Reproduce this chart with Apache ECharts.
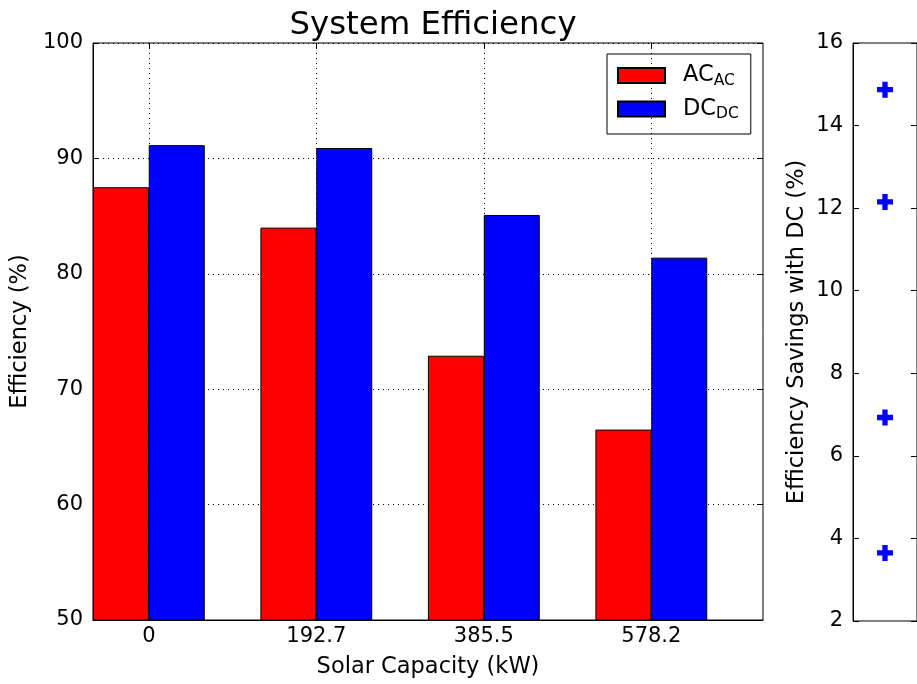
<!DOCTYPE html>
<html><head><meta charset="utf-8">
<script src="https://cdn.jsdelivr.net/npm/echarts@6/dist/echarts.min.js"></script>
<style>html,body{margin:0;padding:0;background:#fff}#c{width:917px;height:684px}</style>
</head><body><div id="c"></div>
<script>
const categories = ['0', '192.7', '385.5', '578.2'];
const acValues = [87.5, 84.0, 72.9, 66.5];
const dcValues = [91.15, 90.9, 85.1, 81.4];
const savings = [3.65, 6.93, 12.15, 14.87];
const yTicksLeft = [50, 60, 70, 80, 90, 100];
const yTicksRight = [2, 4, 6, 8, 10, 12, 14, 16];

const F = 'DejaVu Sans';
const TICK = 21, LAB = 22.5;
const catIdx = categories.map((c, i) => i);
const acData = acValues.map((v, i) => [i - 1/6, v]);
const dcData = dcValues.map((v, i) => [i + 1/6, v]);
const savData = savings.map(v => [1, v]);
const plus = 'path://M-1,-3 L1,-3 L1,-1 L3,-1 L3,1 L1,1 L1,3 L-1,3 L-1,1 L-3,1 L-3,-1 L-1,-1 Z';

const chart = echarts.init(document.getElementById('c'), null, {renderer: 'canvas'});
const tickInside = {show: true, inside: true, length: 6, lineStyle: {color: '#000', width: 1}};
chart.setOption({
  animation: false,
  textStyle: {fontFamily: F},
  title: {text: 'System Efficiency', left: 428, top: 5, textAlign: 'center',
    textStyle: {fontFamily: F, fontSize: 32.4, fontWeight: 'normal', color: '#000'}},
  legend: {
    orient: 'vertical', left: 607, top: 54, padding: [10, 12, 12, 10],
    itemWidth: 47, itemHeight: 15, itemGap: 9, icon: 'rect',
    borderColor: '#000', borderWidth: 1, borderRadius: 0,
    data: ['AC', 'DC'],
    formatter: n => '{m|' + n + '}{s|' + n + '}',
    textStyle: {fontFamily: F, color: '#000', rich: {
      m: {fontSize: LAB, fontFamily: F, color: '#000', padding: [0, 0, 0, 13]},
      s: {fontSize: 15.5, fontFamily: F, color: '#000', padding: [10, 0, 0, 0]}
    }}
  },
  grid: [
    {left: 93, top: 43, width: 670, height: 578, show: true, borderColor: '#000', borderWidth: 1, backgroundColor: 'transparent'},
    {left: 853, top: 43, width: 65, height: 578, show: true, borderColor: '#000', borderWidth: 1, backgroundColor: 'transparent'}
  ],
  xAxis: [
    {type: 'value', gridIndex: 0, min: -1/3, max: 11/3, position: 'bottom',
      name: 'Solar Capacity (kW)', nameLocation: 'middle', nameGap: 36,
      nameTextStyle: {fontFamily: F, fontSize: LAB, color: '#000'},
      axisLine: {show: true, onZero: false, lineStyle: {color: '#000'}},
      axisTick: Object.assign({customValues: catIdx}, tickInside),
      axisLabel: {customValues: catIdx, formatter: v => categories[Math.round(v)], fontFamily: F, fontSize: TICK, color: '#000', margin: 6},
      splitLine: {show: true, lineStyle: {color: '#000', type: [1, 4], width: 1}}},
    {type: 'value', gridIndex: 0, min: -1/3, max: 11/3, position: 'top',
      axisLine: {show: false, onZero: false}, axisTick: Object.assign({customValues: catIdx}, tickInside),
      axisLabel: {show: false}, splitLine: {show: false}},
    {type: 'value', gridIndex: 1, min: 0, max: 2, axisLine: {show: false, onZero: false},
      axisTick: {show: false}, axisLabel: {show: false}, splitLine: {show: false}}
  ],
  yAxis: [
    {type: 'value', gridIndex: 0, min: 50, max: 100, interval: 10, position: 'left',
      name: 'Efficiency (%)', nameLocation: 'middle', nameGap: 57,
      nameTextStyle: {fontFamily: F, fontSize: LAB, color: '#000'},
      axisLine: {show: true, onZero: false, lineStyle: {color: '#000'}}, axisTick: tickInside,
      axisLabel: {fontFamily: F, fontSize: TICK, color: '#000', margin: 10},
      splitLine: {show: true, lineStyle: {color: '#000', type: [1, 4], width: 1}}},
    {type: 'value', gridIndex: 0, min: 50, max: 100, interval: 10, position: 'right',
      axisLine: {show: false, onZero: false}, axisTick: tickInside, axisLabel: {show: false}, splitLine: {show: false}},
    {type: 'value', gridIndex: 1, min: 2, max: 16, interval: 2, position: 'left',
      name: 'Efficiency Savings with DC (%)', nameLocation: 'middle', nameGap: 44,
      nameTextStyle: {fontFamily: F, fontSize: LAB, color: '#000'},
      axisLine: {show: true, onZero: false, lineStyle: {color: '#000'}}, axisTick: tickInside,
      axisLabel: {fontFamily: F, fontSize: TICK, color: '#000', margin: 10},
      splitLine: {show: false}},
    {type: 'value', gridIndex: 1, min: 2, max: 16, interval: 2, position: 'right',
      axisLine: {show: false, onZero: false}, axisTick: tickInside, axisLabel: {show: false}, splitLine: {show: false}}
  ],
  series: [
    {name: 'AC', type: 'bar', xAxisIndex: 0, yAxisIndex: 0, data: acData, barWidth: 56, barGap: '-100%',
      itemStyle: {color: '#ff0000', borderColor: '#000', borderWidth: 1}},
    {name: 'DC', type: 'bar', xAxisIndex: 0, yAxisIndex: 0, data: dcData, barWidth: 56, barGap: '-100%',
      itemStyle: {color: '#0000ff', borderColor: '#000', borderWidth: 1}},
    {name: 'Savings', type: 'scatter', xAxisIndex: 2, yAxisIndex: 2, data: savData,
      symbol: plus, symbolSize: 16, itemStyle: {color: '#0000ff', opacity: 1}}
  ]
});
</script></body></html>
